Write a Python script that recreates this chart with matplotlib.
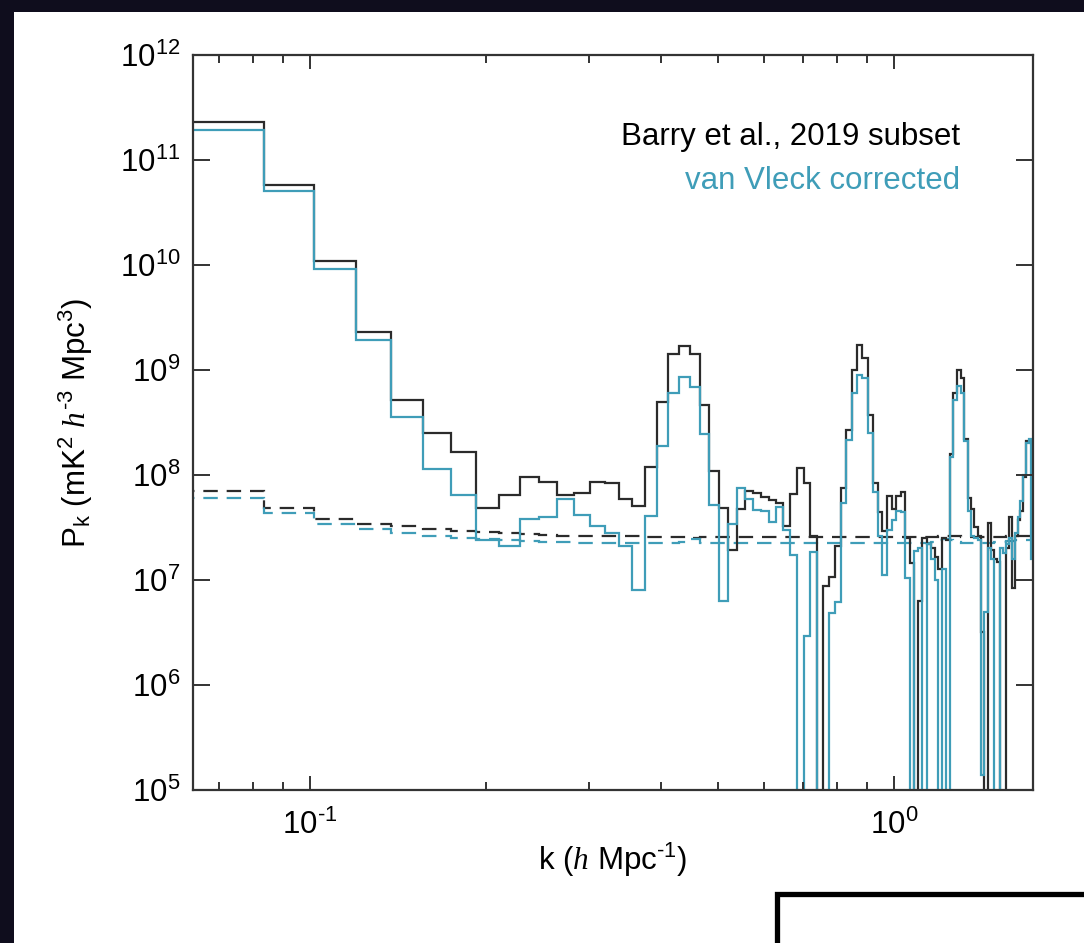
import matplotlib
matplotlib.use("Agg")
import matplotlib.pyplot as plt
import numpy as np
from matplotlib.patches import Rectangle
from matplotlib.ticker import FuncFormatter, LogLocator, NullFormatter, NullLocator

plt.rcParams["font.family"] = "Liberation Sans"
plt.rcParams["mathtext.fontset"] = "custom"
plt.rcParams["mathtext.rm"] = "Liberation Sans"
plt.rcParams["mathtext.it"] = "Liberation Serif:italic"
plt.rcParams["mathtext.default"] = "rm"

# linear k bins (h/Mpc); the first bin reaches below the plotted range
k_first_edge = 0.0834
dk = 0.01817
n_bins = 92
k_edges = np.concatenate(([0.06], k_first_edge + dk * np.arange(n_bins)))

# power spectrum, Barry et al. 2019 subset (mK^2 h^-3 Mpc^3); negatives fall off the log axis
pk_barry = [
    2.3e11, 5.8e10, 1.1e10, 2.3e9, 5.2e8, 2.5e8, 1.65e8, 4.8e7, 6.5e7, 9.5e7,
    8.6e7, 6.5e7, 6.8e7, 8.6e7, 8.4e7, 5.9e7, 5.1e7, 1.18e8, 5.0e8, 1.41e9,
    1.7e9, 1.41e9, 4.6e8, 1.1e8, 4.9e7, 1.93e7, 4.7e7, 7.0e7, 6.7e7, 6.2e7,
    5.8e7, 5.4e7, 3.3e7, 6.6e7, 1.16e8, 8.3e7, 2.6e7, -2e7, 8.7e6, 1.07e7,
    2.1e7, 7.5e7, 2.7e8, 1.0e9, 1.73e9, 1.29e9, 3.7e8, 8.3e7, 4.4e7, 2.9e7,
    6.3e7, 4.7e7, 6.3e7, 6.9e7, 2.5e7, 1.45e7, -2e7, 6.3e6, 2.5e7, 2.2e7,
    2.0e7, 1.66e7, 1.26e7, 2.5e7, 2.4e7, 1.6e8, 6.0e8, 1.0e9, 8.3e8, 2.2e8,
    6.0e7, 4.7e7, 3.2e7, 2.6e7, 3.2e6, -2e7, 3.5e7, 1.95e7, 1.6e7, 1.5e7,
    -2e7, -2e7, 2.0e7, 4.0e7, 8.3e6, 2.6e7, 3.7e7, 4.5e7, 9.5e7, 2.1e8,
    2.1e8, 2.0e8,
]
pk_vanvleck = [
    1.95e11, 5.1e10, 9.1e9, 1.93e9, 3.6e8, 1.14e8, 6.5e7, 2.4e7, 2.1e7, 3.8e7,
    4.0e7, 5.9e7, 4.2e7, 3.3e7, 2.8e7, 2.1e7, 8.1e6, 4.1e7, 1.9e8, 6.1e8,
    8.5e8, 6.9e8, 2.45e8, 5.2e7, 6.3e6, 3.4e7, 7.5e7, 5.9e7, 4.6e7, 4.5e7,
    3.6e7, 5.0e7, 3.0e7, 1.73e7, -2e7, 2.9e6, 1.86e7, -2e7, -2e7, 4.9e6,
    6.2e6, 5.4e7, 2.15e8, 6.0e8, 8.9e8, 8.3e8, 2.5e8, 6.9e7, 2.6e7, 1.12e7,
    3.0e7, 3.7e7, 4.5e7, 4.4e7, 1.04e7, -2e7, 1.9e7, 2.0e7, -2e7, 2.2e7,
    1.6e7, 1.0e7, -2e7, 1.26e7, -2e7, 1.5e8, 5.2e8, 7.1e8, 6.0e8, 2.1e8,
    4.5e7, 2.6e7, 2.5e7, 2.4e7, 1.4e5, 5.0e6, 2.0e7, 1.6e7, -2e7, -2e7,
    2.0e7, 1.8e7, 2.2e7, 2.5e7, 1.6e7, 2.8e7, 4.0e7, 5.6e7, 1.0e8, 2.0e8,
    2.2e8, 1.6e7,
]

# expected noise levels
noise_barry = [
    7.1e7, 4.9e7, 3.85e7, 3.45e7, 3.25e7, 3.05e7, 2.95e7, 2.85e7, 2.8e7, 2.75e7,
    2.7e7, 2.65e7, 2.65e7, 2.6e7, 2.6e7, 2.6e7, 2.6e7, 2.55e7, 2.55e7, 2.55e7,
    2.55e7, 2.5e7, 2.55e7, 2.55e7, 2.55e7, 2.55e7, 2.55e7, 2.55e7, 2.55e7, 2.55e7,
    2.55e7, 2.55e7, 2.55e7, 2.55e7, 2.55e7, 2.55e7, 2.55e7, 2.55e7, 2.55e7, 2.55e7,
    2.55e7, 2.55e7, 2.55e7, 2.55e7, 2.55e7, 2.55e7, 2.55e7, 2.55e7, 2.55e7, 2.55e7,
    2.55e7, 2.55e7, 2.55e7, 2.55e7, 2.55e7, 2.55e7, 2.55e7, 2.55e7, 2.55e7, 2.55e7,
    2.55e7, 2.55e7, 2.6e7, 2.6e7, 2.6e7, 2.6e7, 2.6e7, 2.6e7, 2.55e7, 2.55e7,
    2.55e7, 2.55e7, 2.55e7, 2.55e7, 2.55e7, 2.55e7, 2.55e7, 2.55e7, 2.55e7, 2.55e7,
    2.55e7, 2.55e7, 2.6e7, 2.6e7, 2.6e7, 2.6e7, 2.6e7, 2.6e7, 2.6e7, 2.6e7,
    2.6e7, 2.6e7,
]
noise_vanvleck = [
    6.0e7, 4.3e7, 3.4e7, 3.05e7, 2.8e7, 2.6e7, 2.5e7, 2.45e7, 2.4e7, 2.35e7,
    2.3e7, 2.3e7, 2.25e7, 2.25e7, 2.25e7, 2.25e7, 2.25e7, 2.25e7, 2.25e7, 2.25e7,
    2.3e7, 2.45e7, 2.25e7, 2.25e7, 2.25e7, 2.25e7, 2.25e7, 2.25e7, 2.25e7, 2.25e7,
    2.25e7, 2.25e7, 2.25e7, 2.25e7, 2.25e7, 2.25e7, 2.25e7, 2.25e7, 2.25e7, 2.25e7,
    2.25e7, 2.25e7, 2.25e7, 2.25e7, 2.25e7, 2.25e7, 2.25e7, 2.25e7, 2.25e7, 2.25e7,
    2.25e7, 2.25e7, 2.25e7, 2.25e7, 2.25e7, 2.25e7, 2.25e7, 2.25e7, 2.25e7, 2.25e7,
    2.3e7, 2.35e7, 2.4e7, 2.45e7, 2.45e7, 2.4e7, 2.35e7, 2.3e7, 2.25e7, 2.25e7,
    2.25e7, 2.25e7, 2.25e7, 2.25e7, 2.25e7, 2.25e7, 2.25e7, 2.25e7, 2.3e7, 2.3e7,
    2.3e7, 2.3e7, 2.35e7, 2.35e7, 2.35e7, 2.4e7, 2.4e7, 2.4e7, 2.4e7, 2.4e7,
    2.4e7, 2.4e7,
]

labels = ["Barry et al., 2019 subset", "van Vleck corrected"]
colors = ["#2b2b2b", "#3f9db8"]


def decade_label(val, pos):
    # powers of ten with a plain hyphen for negative exponents
    exp = int(round(np.log10(val)))
    if exp < 0:
        return r"$10^{\text{-}%d}$" % (-exp)
    return r"$10^{%d}$" % exp


W, H = 1084, 943
fig = plt.figure(figsize=(W / 100, H / 100), dpi=100, facecolor="#0f0d1d")
fig.patches.append(Rectangle((14 / W, 0), 1, 1 - 12 / H, transform=fig.transFigure,
                             facecolor="white", edgecolor="none", zorder=-10))

ax = fig.add_axes([193 / W, 1 - 790 / H, 840 / W, 735 / H])

ax.stairs(noise_barry, k_edges, baseline=None, color=colors[0], lw=1.6,
          linestyle=(0, (6.5, 4.0)))
ax.stairs(noise_vanvleck, k_edges, baseline=None, color=colors[1], lw=1.6,
          linestyle=(0, (6.5, 4.0)))
ax.stairs(pk_barry, k_edges, baseline=None, color=colors[0], lw=1.6)
ax.stairs(pk_vanvleck, k_edges, baseline=None, color=colors[1], lw=1.6)

ax.set_xscale("log")
ax.set_yscale("log")
ax.set_xlim(0.0631, 1.73)
ax.set_ylim(1e5, 1e12)

ax.yaxis.set_major_locator(LogLocator(base=10, numticks=20))
ax.yaxis.set_minor_locator(NullLocator())
ax.yaxis.set_major_formatter(FuncFormatter(decade_label))
ax.xaxis.set_major_locator(LogLocator(base=10, numticks=10))
ax.xaxis.set_major_formatter(FuncFormatter(decade_label))
ax.xaxis.set_minor_locator(LogLocator(base=10, subs=np.arange(2, 10), numticks=10))
ax.xaxis.set_minor_formatter(NullFormatter())

ax.tick_params(axis="both", which="both", direction="in", top=True, right=True,
               labelsize=22.5, width=1.4, color="#333333")
ax.tick_params(axis="y", which="major", length=12, pad=9)
ax.tick_params(axis="x", which="major", length=10, pad=14)
ax.tick_params(axis="x", which="minor", length=6)
for sp in ax.spines.values():
    sp.set_linewidth(1.6)
    sp.set_color("#333333")

ax.set_xlabel(r"k ($\mathit{h}$ Mpc$^{\text{-}1}$)", fontsize=22.5, labelpad=0)
ax.set_ylabel(r"P$_{\mathrm{k}}$ (mK$^2$ $\mathit{h}^{\text{-}3}$ Mpc$^3$)", fontsize=22.5,
              labelpad=18)

ax.text(0.913, 0.888, labels[0], transform=ax.transAxes, ha="right", va="center",
        fontsize=22.5, color="black")
ax.text(0.913, 0.829, labels[1], transform=ax.transAxes, ha="right", va="center",
        fontsize=22.5, color=colors[1])

# framed inset placeholder at the lower right
fig.patches.append(Rectangle((777 / W, -0.1), 0.5, 0.1 + (943 - 894) / H,
                             transform=fig.transFigure, facecolor="white",
                             edgecolor="black", linewidth=3.8, zorder=5))

fig.savefig("out.png", dpi=100, facecolor=fig.get_facecolor())
